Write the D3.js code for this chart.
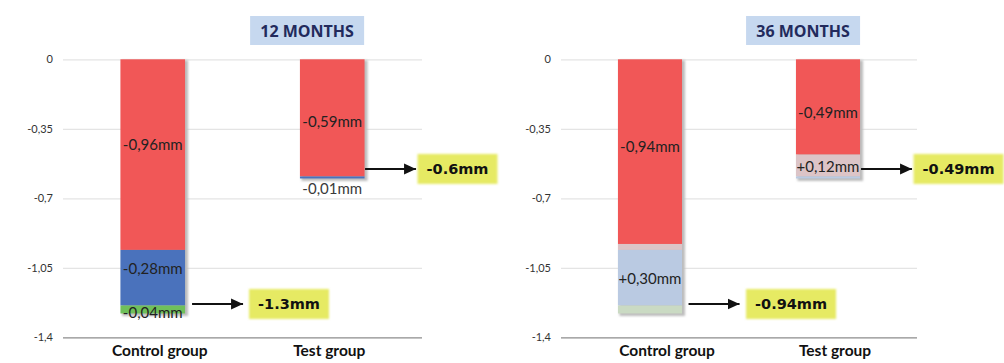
<!DOCTYPE html>
<html><head><meta charset="utf-8">
<script src="https://cdn.jsdelivr.net/npm/d3@7"></script>
<style>body{margin:0;background:#fff}svg{display:block}</style>
</head><body><svg id="c" width="1004" height="363"></svg>
<script>
// ---- data ----
const categories = ["Control group", "Test group"];
const yTickValues = [0, -0.35, -0.7, -1.05, -1.4];
const yTickLabels = ["0", "-0,35", "-0,7", "-1,05", "-1,4"];
const panelTitles = ["12 MONTHS", "36 MONTHS"];
const m12Control = [-0.96, -0.28, -0.04];
const m12Test = [-0.59, -0.01];
const m36Control = [-0.93, -0.03, -0.28, -0.04];
const m36Test = [-0.48, -0.11, -0.01];
const m12ControlLabels = ["-0,96mm", "-0,28mm", "-0,04mm"];
const m12TestLabels = ["-0,59mm", "-0,01mm"];
const m36ControlLabels = ["-0,94mm", "", "+0,30mm", ""];
const m36TestLabels = ["-0,49mm", "+0,12mm", ""];
const m12Totals = ["-1.3mm", "-0.6mm"];
const m36Totals = ["-0.94mm", "-0.49mm"];

// ---- style / layout ----
const RED = "#f15757", BLUE = "#4a72bc", GREEN = "#6fc05a";
const FRED = "#dcc4c7", FBLUE = "#bacae2", FGREEN = "#cadac3";
const panels = [
  { title: panelTitles[0], left: 63, right: 422, catDx: [7, -3],
    bars: [
      { values: m12Control, labels: m12ControlLabels, total: m12Totals[0], colors: [RED, BLUE, GREEN], nudge: [-10, -9, 3], arrowGap: 7, boxGap: 6 },
      { values: m12Test, labels: m12TestLabels, total: m12Totals[1], colors: [RED, BLUE], nudge: [4, 0], arrowGap: 0.5, boxGap: 1.5 }
    ] },
  { title: panelTitles[1], left: 561, right: 917, catDx: [17, 7],
    bars: [
      { values: m36Control, labels: m36ControlLabels, total: m36Totals[0], colors: [RED, FRED, FBLUE, FGREEN], nudge: [-5, 0, 1, 0], arrowGap: 6.5, boxGap: 6.5 },
      { values: m36Test, labels: m36TestLabels, total: m36Totals[1], colors: [RED, FRED, FBLUE], nudge: [6, 1, 0], arrowGap: 1, boxGap: 1.5 }
    ] }
];

const svg = d3.select("#c");
const defs = svg.append("defs");
defs.append("filter").attr("id", "soft").attr("x", "-20%").attr("y", "-30%").attr("width", "140%").attr("height", "160%")
  .append("feGaussianBlur").attr("stdDeviation", 1.3);
defs.append("filter").attr("id", "shadow").attr("x", "-20%").attr("y", "-20%").attr("width", "140%").attr("height", "140%")
  .append("feGaussianBlur").attr("stdDeviation", 1);
defs.append("marker").attr("id", "arrow").attr("markerUnits", "userSpaceOnUse")
  .attr("viewBox", "0 0 12 12").attr("refX", 12).attr("refY", 6)
  .attr("markerWidth", 12).attr("markerHeight", 12).attr("orient", "auto")
  .append("path").attr("d", "M0,0.5 L12,6 L0,11.5 Z").attr("fill", "#111");

const y = d3.scaleLinear().domain([-1.4, 0]).range([337.3, 59.3]);

panels.forEach(p => {
  const g = svg.append("g");
  const x = d3.scaleBand().domain(categories).range([p.left, p.right]).paddingInner(0.64).paddingOuter(0.32);
  const bw = x.bandwidth();

  // y axis + gridlines
  const axis = d3.axisLeft(y).tickValues(yTickValues).tickFormat((d, i) => yTickLabels[i])
    .tickSize(-(p.right - p.left)).tickPadding(10);
  const ag = g.append("g").attr("transform", `translate(${p.left},0)`).call(axis);
  ag.select(".domain").remove();
  ag.selectAll(".tick line").attr("stroke", d => d === -1.4 ? "#8c8c8c" : "#e4e4e4").attr("stroke-width", 1.3);
  ag.selectAll(".tick text").attr("font-family", "Lato, sans-serif").attr("font-size", 11).attr("fill", "#333");

  // category axis
  const xa = g.append("g").attr("transform", `translate(0,${y(-1.4)})`)
    .call(d3.axisBottom(x).tickSize(0).tickPadding(8));
  xa.select(".domain").remove();
  xa.selectAll(".tick text").attr("font-family", "Lato, sans-serif").attr("font-weight", "bold")
    .attr("font-size", 15.5).attr("fill", "#111").attr("dx", (d, i) => p.catDx[i]);

  // title
  const tc = p.left + 0.68 * (p.right - p.left);
  g.append("rect").attr("x", tc - 57).attr("y", 16).attr("width", 114).attr("height", 29).attr("fill", "#c6d8ef");
  g.append("text").attr("x", tc).attr("y", 36.5).attr("text-anchor", "middle")
    .attr("font-family", "'Open Sans', sans-serif").attr("font-weight", "bold").attr("font-size", 16)
    .attr("fill", "#222a5c").text(p.title);

  p.bars.forEach((b, bi) => {
    const cat = categories[bi];
    const x0 = x(cat);
    let cum = 0;
    const segs = b.values.map((v, i) => { const s = { from: cum, to: cum + v, i }; cum += v; return s; });
    const total = cum;

    // shadow
    g.append("rect").attr("x", x0 + 1.5).attr("y", y(0) + 1).attr("width", bw + 1.5)
      .attr("height", y(total) - y(0) + 1.5).attr("fill", "#bdbdbd").attr("filter", "url(#shadow)");

    g.selectAll(null).data(segs).join("rect")
      .attr("x", x0).attr("width", bw)
      .attr("y", d => y(d.from)).attr("height", d => y(d.to) - y(d.from))
      .attr("fill", d => b.colors[d.i]);

    g.selectAll(null).data(segs.filter(d => b.labels[d.i])).join("text")
      .attr("x", x0 + bw / 2)
      .attr("y", d => {
        const h = y(d.to) - y(d.from);
        if (h < 4) return y(total) + 10;
        return (y(d.from) + y(d.to)) / 2 + b.nudge[d.i];
      })
      .attr("dy", "0.35em").attr("text-anchor", "middle")
      .attr("font-family", "Lato, sans-serif").attr("font-size", 15)
      .attr("fill", d => (y(d.to) - y(d.from) < 4) ? "#3a3a3a" : "#222")
      .text(d => b.labels[d.i]);

    // arrow + callout
    const ay = y(total) - 9.5;
    const ax1 = x0 + bw + b.arrowGap;
    const ax2 = ax1 + 51;
    g.append("line").attr("x1", ax1).attr("x2", ax2).attr("y1", ay).attr("y2", ay)
      .attr("stroke", "#111").attr("stroke-width", 2).attr("marker-end", "url(#arrow)");
    const boxG = g.append("g");
    const rect = boxG.append("rect").attr("fill", "#e6ea63").attr("filter", "url(#soft)");
    const t = boxG.append("text").attr("y", ay).attr("dy", "0.36em").attr("text-anchor", "middle")
      .attr("font-family", "'DejaVu Sans', sans-serif").attr("font-weight", "bold").attr("font-size", 14.5)
      .attr("fill", "#111").text(b.total);
    const tw = t.node().getComputedTextLength();
    const bx = ax2 + b.boxGap;
    const bwid = tw + 18;
    rect.attr("x", bx).attr("y", ay - 15).attr("width", bwid).attr("height", 30);
    t.attr("x", bx + bwid / 2);
  });
});
</script>
</body></html>
